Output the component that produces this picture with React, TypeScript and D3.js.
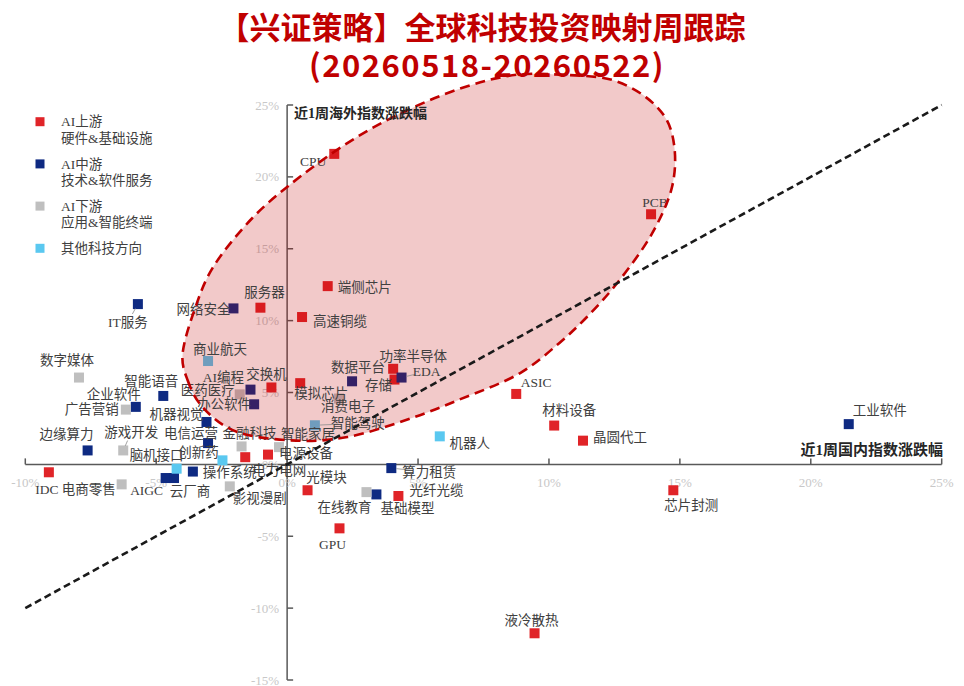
import React from "react";
import * as d3 from "d3";

// 近1周国内指数涨跌幅 (x, %) / 近1周海外指数涨跌幅 (y, %)
type Pt = [string, number, number];

const upstream: Pt[] = [
  ["CPU", 1.8, 21.6],
  ["PCB", 13.9, 17.4],
  ["端侧芯片", 1.55, 12.4],
  ["高速铜缆", 0.57, 10.25],
  ["服务器", -1.02, 10.9],
  ["交换机", -0.6, 5.35],
  ["模拟芯片", 0.5, 5.65],
  ["功率半导体", 4.05, 6.65],
  ["存储", 4.1, 5.9],
  ["ASIC", 8.75, 4.9],
  ["材料设备", 10.2, 2.7],
  ["晶圆代工", 11.3, 1.65],
  ["芯片封测", 14.75, -1.8],
  ["液冷散热", 9.45, -11.75],
  ["GPU", 2.0, -4.45],
  ["光模块", 0.78, -1.8],
  ["光纤光缆", 4.25, -2.2],
  ["IDC", -9.1, -0.55],
  ["电力电网", -1.6, 0.5],
  ["电源设备", -0.73, 0.68],
];

const midstream: Pt[] = [
  ["IT服务", -5.7, 11.15],
  ["网络安全", -2.05, 10.85],
  ["AI编程", -1.4, 5.2],
  ["办公软件", -1.26, 4.18],
  ["智能语音", -4.73, 4.76],
  ["企业软件", -5.78, 4.0],
  ["机器视觉", -3.08, 2.95],
  ["电信运营", -3.02, 1.48],
  ["边缘算力", -7.62, 0.97],
  ["AIGC", -4.64, -0.95],
  ["云厂商", -4.32, -0.95],
  ["操作系统", -3.6, -0.5],
  ["数据平台", 2.48, 5.78],
  ["EDA", 4.37, 6.04],
  ["算力租赁", 3.98, -0.26],
  ["基础模型", 3.41, -2.09],
  ["工业软件", 21.45, 2.8],
];

const downstream: Pt[] = [
  ["数字媒体", -7.95, 6.04],
  ["广告营销", -6.16, 3.81],
  ["游戏开发", -6.26, 0.97],
  ["医药医疗", -1.81, 4.87],
  ["电商零售", -6.32, -1.39],
  ["影视漫剧", -2.19, -1.53],
  ["金融科技", -1.74, 1.25],
  ["智能家居", -0.31, 1.2],
  ["消费电子", 1.98, 4.58],
  ["在线教育", 3.03, -1.93],
];

const otherTech: Pt[] = [
  ["商业航天", -3.02, 7.19],
  ["脑机接口", -4.22, -0.3],
  ["创新药", -2.47, 0.28],
  ["智能驾驶", 1.06, 2.72],
  ["机器人", 5.83, 1.95],
];

const seriesNames = [
  ["AI上游", "硬件&基础设施"],
  ["AI中游", "技术&软件服务"],
  ["AI下游", "应用&智能终端"],
  ["其他科技方向"],
];

const xTicks = [-10, -5, 0, 5, 10, 15, 20, 25];
const yTicks = [-15, -10, -5, 0, 5, 10, 15, 20, 25];

// Outline of the highlighted cluster, in data units (x%, y%)
const focusOutline: [number, number][] = [
  [-4.0, 7.45], [-3.8, 5.85], [-3.35, 4.25], [-2.1, 2.4], [0.35, 1.65],
  [2.3, 1.9], [4.8, 3.25], [6.5, 4.45], [8.9, 6.35], [10.4, 8.45],
  [11.45, 10.25], [12.6, 12.6], [13.95, 16.1], [14.7, 19.3], [14.8, 21.9],
  [14.5, 23.95], [13.7, 25.55], [12.4, 26.75], [10.5, 27.1], [8.75, 27.1],
  [6.7, 26.2], [4.2, 24.3], [2.3, 22.35], [0.0, 19.3], [-1.4, 17.0],
  [-2.85, 13.65], [-3.45, 11.2],
];

// label centre offsets (px) relative to each marker
const labelPlace: Record<string, [number, number]> = {
  CPU: [-21, 7], PCB: [4, -12], 端侧芯片: [37, 1], 高速铜缆: [38, 4],
  服务器: [4, -15], 交换机: [-5, -13], 模拟芯片: [21, 10], 功率半导体: [20, -13],
  存储: [-16, 6], ASIC: [20, -12], 材料设备: [15, -15], 晶圆代工: [37, -3],
  芯片封测: [18, 15], 液冷散热: [-3, -13], GPU: [-7, 16], 光模块: [19, -13],
  光纤光缆: [38, -6], IDC: [-2, 17], 电力电网: [34, 13], 电源设备: [38, -1],
  IT服务: [-10, 18], 网络安全: [-30, 1], AI编程: [-27, -12], 办公软件: [-30, 0],
  智能语音: [-12, -15], 企业软件: [-22, -13], 机器视觉: [-30, -8], 电信运营: [-17, -10],
  边缘算力: [-21, -16], AIGC: [-19, 12], 云厂商: [16, 13], 操作系统: [37, 1],
  数据平台: [6, -14], EDA: [25, -6], 算力租赁: [38, 4], 基础模型: [31, 14],
  工业软件: [31, -14], 数字媒体: [-12, -17], 广告营销: [-34, 0], 游戏开发: [8, -18],
  医药医疗: [-32, -4], 电商零售: [-33, 5], 影视漫剧: [30, 12], 金融科技: [8, -13],
  智能家居: [29, -13], 消费电子: [9, 8], 在线教育: [-22, 15], 商业航天: [12, -12],
  脑机接口: [-20, -13], 创新药: [-24, -8], 智能驾驶: [43, -2], 机器人: [30, 7],
};

const leaderNames = ["IT服务", "游戏开发", "EDA", "智能驾驶", "算力租赁"];

const COLORS = ["#e02428", "#0e2a82", "#bfbfbf", "#5ac8f0"];
const W = 964;
const H = 686;
const SERIF = "'Liberation Serif', 'Noto Sans CJK SC', serif";
const SANS = "'Noto Sans CJK SC', 'Noto Sans', sans-serif";
const TEXT = "#404040";

export default function App() {
  const x = d3.scaleLinear().domain([-10, 25]).range([25.3, 941.7]);
  const y = d3.scaleLinear().domain([-15, 25]).range([680, 105]);
  const x0 = x(0);
  const y0 = y(0);

  const groups = [upstream, midstream, downstream, otherTech];

  const outlinePath =
    d3
      .line<[number, number]>()
      .x((d) => x(d[0]))
      .y((d) => y(d[1]))
      .curve(d3.curveCatmullRomClosed.alpha(0.5))(focusOutline) || "";

  const size = 10;

  return (
    <svg
      width={W}
      height={H}
      style={{ position: "absolute", left: 0, top: 0, background: "#fff" }}
    >
      {/* title */}
      <text
        x={482}
        y={39}
        textAnchor="middle"
        fontFamily={SANS}
        fontWeight={700}
        fontSize={31}
        fill="#c00000"
      >
        【兴证策略】全球科技投资映射周跟踪
      </text>
      <text
        x={487}
        y={77}
        textAnchor="middle"
        fontFamily={SANS}
        fontWeight={700}
        fontSize={31}
        letterSpacing={1.5}
        fill="#c00000"
      >
        (20260518-20260522)
      </text>

      {/* axes */}
      <g stroke="#595959" strokeWidth={1.5} fill="none">
        <line x1={x(-10)} x2={x(25)} y1={y0} y2={y0} />
        <line x1={x0} x2={x0} y1={y(25)} y2={y(-15)} />
        {xTicks.map((t) => (
          <line key={"xt" + t} x1={x(t)} x2={x(t)} y1={y0} y2={y0 - 6} />
        ))}
        {yTicks.map((t) => (
          <line key={"yt" + t} x1={x0} x2={x0 + 6} y1={y(t)} y2={y(t)} />
        ))}
      </g>
      <g fontFamily={SERIF} fontSize={13} fill="#c8c8c8">
        {xTicks.map((t) => (
          <text key={"xl" + t} x={x(t)} y={y0 + 23} textAnchor="middle">
            {t}%
          </text>
        ))}
        {yTicks.map((t) => (
          <text
            key={"yl" + t}
            x={x0 - 8}
            y={y(t)}
            dy="0.35em"
            textAnchor="end"
          >
            {t}%
          </text>
        ))}
      </g>

      {/* markers */}
      {groups.map((g, gi) =>
        g.map((d) => (
          <rect
            key={"m" + d[0]}
            x={x(d[1]) - size / 2}
            y={y(d[2]) - size / 2}
            width={size}
            height={size}
            fill={COLORS[gi]}
          />
        ))
      )}

      {/* highlighted cluster */}
      <path d={outlinePath} fill="#c00000" fillOpacity={0.21} stroke="none" />

      {/* leader lines */}
      <g stroke="#8c8c8c" strokeWidth={0.8}>
        {groups.flat().filter((d) => leaderNames.includes(d[0])).map((d) => {
          const [dx, dy] = labelPlace[d[0]];
          const px = x(d[1]);
          const py = y(d[2]);
          const len = Math.hypot(dx, dy);
          return (
            <line
              key={"ld" + d[0]}
              x1={px + (dx / len) * 5}
              y1={py + (dy / len) * 5}
              x2={px + dx * 0.55}
              y2={py + dy * 0.55}
            />
          );
        })}
      </g>

      {/* point labels */}
      <g fontFamily={SERIF} fontSize={13.5} fill={TEXT}>
        {groups.flat().map((d) => {
          const [dx, dy] = labelPlace[d[0]] || [0, -14];
          return (
            <text
              key={"lb" + d[0]}
              x={x(d[1]) + dx}
              y={y(d[2]) + dy}
              dy="0.35em"
              textAnchor="middle"
            >
              {d[0]}
            </text>
          );
        })}
      </g>

      <path
        d={outlinePath}
        fill="none"
        stroke="#c00000"
        strokeWidth={2.6}
        strokeDasharray="10 6"
      />

      {/* y = x reference */}
      <line
        x1={x(-10)}
        y1={y(-10)}
        x2={x(25)}
        y2={y(25)}
        stroke="#1a1a1a"
        strokeWidth={2.6}
        strokeDasharray="7 4"
      />

      {/* axis titles */}
      <text
        x={294}
        y={113}
        dy="0.35em"
        fontFamily={SERIF}
        fontWeight={700}
        fontSize={14}
        fill="#262626"
      >
        近1周海外指数涨跌幅
      </text>
      <text
        x={943}
        y={450}
        dy="0.35em"
        textAnchor="end"
        fontFamily={SERIF}
        fontWeight={700}
        fontSize={15}
        fill="#262626"
      >
        近1周国内指数涨跌幅
      </text>

      {/* legend */}
      <g fontFamily={SERIF} fontSize={13.5} fill={TEXT}>
        {seriesNames.map((lines, i) => {
          const cy = 121.7 + i * 42.2;
          return (
            <g key={"lg" + i}>
              <rect x={35.5} y={cy - 4.5} width={9} height={9} fill={COLORS[i]} />
              {lines.map((t, j) => (
                <text key={t} x={61} y={cy + j * 16.6} dy="0.35em">
                  {t}
                </text>
              ))}
            </g>
          );
        })}
      </g>
    </svg>
  );
}
